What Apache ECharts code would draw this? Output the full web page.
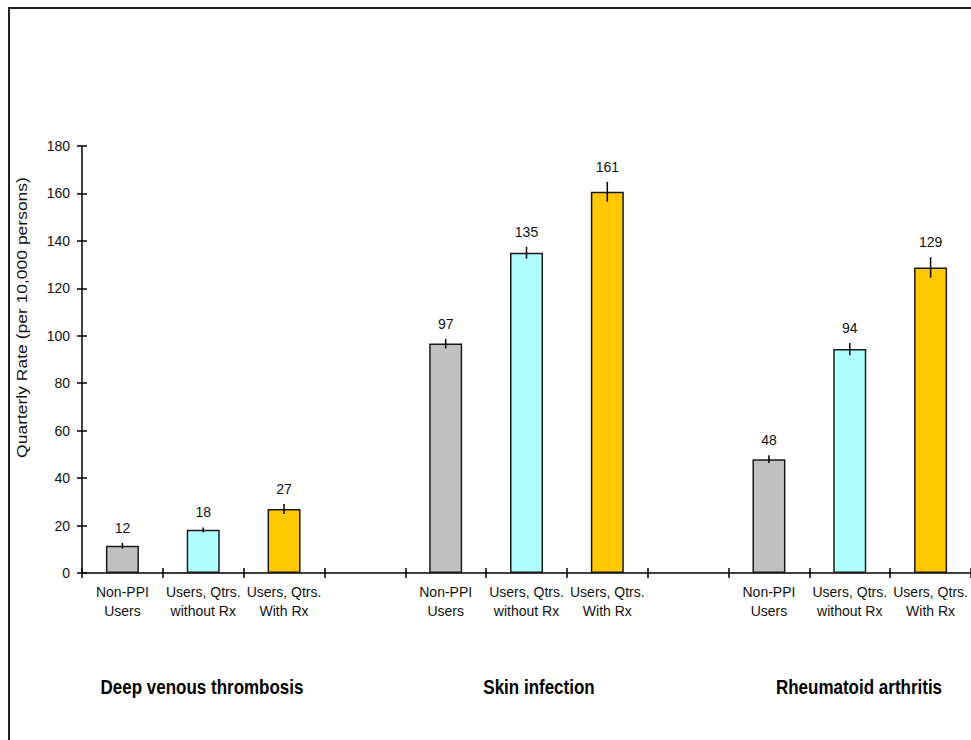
<!DOCTYPE html>
<html>
<head>
<meta charset="utf-8">
<script src="https://cdn.jsdelivr.net/npm/echarts@6/dist/echarts.min.js"></script>
<style>
  html, body { margin: 0; padding: 0; background: #fff; }
  #chart { width: 971px; height: 740px; }
</style>
</head>
<body>
<div id="chart"></div>
<script>
// ---- data ----
const groupCategories = ['Non-PPI\nUsers', 'Users, Qtrs.\nwithout Rx', 'Users, Qtrs.\nWith Rx'];
const diseases = ['Deep venous thrombosis', 'Skin infection', 'Rheumatoid arthritis'];
const dvtRates = [11.5, 18.2, 27.0];
const skinRates = [96.7, 135.0, 160.7];
const raRates = [48.0, 94.4, 128.8];
const dvtErr = [1.2, 1.0, 2.1];
const skinErr = [2.0, 2.5, 4.2];
const raErr = [1.6, 2.6, 4.3];
const barColors = ['#C0C0C0', '#B0FFFF', '#FFC800'];
const yMin = 0, yMax = 180, yInterval = 20;
const yAxisTitle = 'Quarterly Rate (per 10,000 persons)';

// ---- build category axis with spacer slots between groups ----
const rateGroups = [dvtRates, skinRates, raRates];
const errGroups = [dvtErr, skinErr, raErr];
const xCategories = [];
const barData = [];
const errData = [];
rateGroups.forEach((rates, g) => {
  rates.forEach((v, i) => {
    const idx = xCategories.length;
    xCategories.push(groupCategories[i]);
    barData.push({ value: v, itemStyle: { color: barColors[i] } });
    errData.push([idx, v, errGroups[g][i]]);
  });
  if (g < rateGroups.length - 1) {
    xCategories.push('');
    barData.push('-');
  }
});

const chart = echarts.init(document.getElementById('chart'), null, { renderer: 'svg' });

const labelFont = '14px "Liberation Sans", Arial, sans-serif';

chart.setOption({
  backgroundColor: '#fff',
  animation: false,
  grid: { left: 82, right: 0, top: 146, bottom: 167, containLabel: false },
  xAxis: [
    {
      type: 'category',
      data: xCategories,
      boundaryGap: true,
      axisLine: { lineStyle: { color: '#000', width: 1.5 } },
      axisTick: { show: true, interval: 0, length: 5, lineStyle: { color: '#000', width: 1.5 } },
      axisLabel: {
        interval: 0, margin: 9, color: '#111',
        fontSize: 14, fontFamily: '"Liberation Sans", Arial, sans-serif', lineHeight: 19
      },
      splitLine: { show: false }
    },
    {
      type: 'category',
      data: xCategories,
      boundaryGap: true,
      position: 'bottom',
      axisLine: { show: false },
      axisTick: { show: true, inside: true, interval: 0, length: 5, lineStyle: { color: '#000', width: 1.5 } },
      axisLabel: { show: false },
      splitLine: { show: false }
    }
  ],
  yAxis: [
    {
      type: 'value',
      min: yMin, max: yMax, interval: yInterval,
      axisLine: { show: true, lineStyle: { color: '#000', width: 1.5 } },
      axisTick: { show: true, length: 5, lineStyle: { color: '#000', width: 1.5 } },
      axisLabel: { margin: 12, color: '#111', fontSize: 14, fontFamily: '"Liberation Sans", Arial, sans-serif' },
      splitLine: { show: false }
    },
    {
      type: 'value',
      min: yMin, max: yMax, interval: yInterval,
      position: 'left',
      axisLine: { show: false },
      axisTick: { show: true, inside: true, length: 5, lineStyle: { color: '#000', width: 1.5 } },
      axisLabel: { show: false },
      splitLine: { show: false }
    }
  ],
  series: [
    {
      type: 'bar',
      xAxisIndex: 0, yAxisIndex: 0,
      data: barData,
      barWidth: 33,
      itemStyle: { borderColor: '#1a1a1a', borderWidth: 1.5 },
      z: 2
    },
    {
      type: 'custom',
      xAxisIndex: 0, yAxisIndex: 0,
      data: errData,
      encode: { x: 0, y: 1 },
      z: 5,
      renderItem: function (params, api) {
        const x = api.value(0), v = api.value(1), e = api.value(2);
        const lo = api.coord([x, v - e]);
        const hi = api.coord([x, v + e]);
        return {
          type: 'group',
          children: [
            {
              type: 'line',
              shape: { x1: lo[0], y1: lo[1], x2: hi[0], y2: hi[1] },
              style: { stroke: '#000', lineWidth: 1.5 }
            },
            {
              type: 'text',
              x: hi[0], y: hi[1] - 15,
              style: {
                text: String(Math.round(v)),
                fill: '#111', font: labelFont,
                align: 'center', verticalAlign: 'middle',
                textAlign: 'center', textVerticalAlign: 'middle'
              }
            }
          ]
        };
      }
    }
  ],
  graphic: [
    {
      type: 'rect',
      shape: { x: 9, y: 8, width: 1200, height: 1200 },
      style: { fill: 'none', stroke: '#222', lineWidth: 2 },
      silent: true
    },
    {
      type: 'text',
      x: 22, y: 317.5,
      rotation: Math.PI / 2,
      scaleX: 1.25,
      style: {
        text: yAxisTitle, fill: '#111', font: labelFont,
        align: 'center', verticalAlign: 'middle',
        textAlign: 'center', textVerticalAlign: 'middle'
      }
    },
    {
      type: 'text', x: 202, y: 687, scaleY: 1.2,
      style: {
        text: diseases[0], fill: '#000', font: 'bold 17px "Liberation Sans", Arial, sans-serif',
        align: 'center', verticalAlign: 'middle', textAlign: 'center', textVerticalAlign: 'middle'
      }
    },
    {
      type: 'text', x: 539, y: 687, scaleY: 1.2,
      style: {
        text: diseases[1], fill: '#000', font: 'bold 17px "Liberation Sans", Arial, sans-serif',
        align: 'center', verticalAlign: 'middle', textAlign: 'center', textVerticalAlign: 'middle'
      }
    },
    {
      type: 'text', x: 859, y: 687, scaleY: 1.2,
      style: {
        text: diseases[2], fill: '#000', font: 'bold 17px "Liberation Sans", Arial, sans-serif',
        align: 'center', verticalAlign: 'middle', textAlign: 'center', textVerticalAlign: 'middle'
      }
    }
  ]
});
</script>
</body>
</html>
